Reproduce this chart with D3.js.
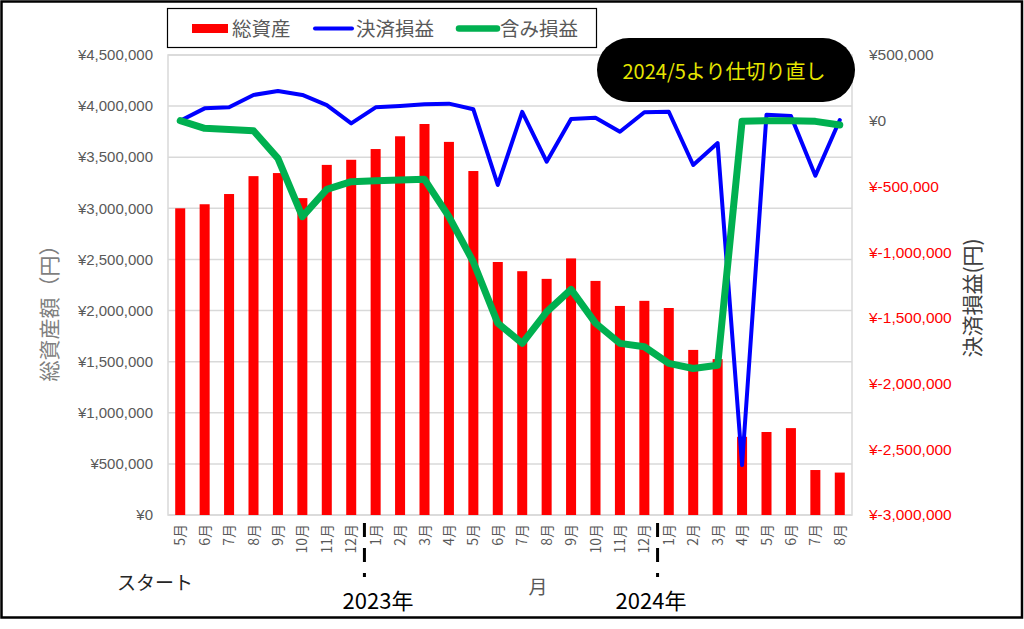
<!DOCTYPE html>
<html>
<head>
<meta charset="utf-8">
<script src="https://cdn.jsdelivr.net/npm/d3@7"></script>
<style>
  html, body { margin: 0; padding: 0; background: #fff; }
  svg { display: block; }
</style>
</head>
<body>
<svg id="chart" width="1024" height="629"></svg>
<script>
// ---- data ----
const months = ["5月","6月","7月","8月","9月","10月","11月","12月",
                "1月","2月","3月","4月","5月","6月","7月","8月","9月","10月","11月","12月",
                "1月","2月","3月","4月","5月","6月","7月","8月"];
const totalAssets = [3000000,3040000,3140000,3315000,3345000,3100000,3425000,3475000,
                     3580000,3705000,3825000,3650000,3365000,2475000,2385000,2310000,2510000,2290000,2045000,2095000,
                     2025000,1615000,1525000,765000,812000,850000,440000,415000];
const settledPL = [0,94000,102000,196000,226000,196000,119000,-20000,
                   102000,112000,125000,130000,87000,-489000,68000,-312000,13000,23000,-84000,64000,
                   68000,-337000,-170000,-2620000,46000,36000,-418000,5000];
const unrealizedPL = [0,-58000,-66000,-76000,-287000,-730000,-522000,-464000,
                      -457000,-451000,-446000,-730000,-1075000,-1540000,-1694000,-1454000,-1283000,-1540000,-1694000,-1720000,
                      -1846000,-1885000,-1860000,-5000,0,0,-5000,-33000];
const leftTicks = [0,500000,1000000,1500000,2000000,2500000,3000000,3500000,4000000,4500000];
const rightTicks = [500000,0,-500000,-1000000,-1500000,-2000000,-2500000,-3000000];
const seriesNames = ["総資産","決済損益","含み損益"];
const yearLabels = ["2023年","2024年"];
const yearBreakIndex = [8, 20];
const note = "2024/5より仕切り直し";

// ---- layout ----
const svg = d3.select("#chart");
const L = 168, R = 852, T = 55, B = 515;
const fmt = d3.formatLocale({decimal:".", thousands:",", grouping:[3], currency:["",""], minus:"-"}).format(",");
const gray = "#595959";
const jp = "'Noto Sans CJK JP', 'Noto Sans', sans-serif";
const num = "'Liberation Sans', Arial, sans-serif";

const x = d3.scaleBand().domain(d3.range(months.length)).range([L, R]).paddingInner(0.59).paddingOuter(0.295);
const xc = i => x(i) + x.bandwidth() / 2;
const yL = d3.scaleLinear().domain([0, 4500000]).range([B, T]);
const yR = d3.scaleLinear().domain([-3000000, 500000]).range([B, T]);

// outer border
svg.append("rect").attr("x", 1.5).attr("y", 1.5).attr("width", 1020.5).attr("height", 616)
  .attr("fill", "#fff").attr("stroke", "#000").attr("stroke-width", 2.5);

// gridlines
svg.append("g").selectAll("line").data(leftTicks).join("line")
  .attr("x1", L).attr("x2", R).attr("y1", d => yL(d)).attr("y2", d => yL(d))
  .attr("stroke", "#d9d9d9").attr("stroke-width", 1.5);
// plot border
svg.append("rect").attr("x", L).attr("y", T).attr("width", R - L).attr("height", B - T)
  .attr("fill", "none").attr("stroke", "#d9d9d9").attr("stroke-width", 1.5);

// bars
svg.append("g").selectAll("rect").data(totalAssets).join("rect")
  .attr("x", (d, i) => x(i)).attr("width", x.bandwidth())
  .attr("y", d => yL(d)).attr("height", d => B - yL(d))
  .attr("fill", "#ff0000");

// lines
const lineFor = arr => d3.line().x((d, i) => xc(i)).y(d => yR(d))(arr);
svg.append("path").attr("d", lineFor(settledPL)).attr("fill", "none")
  .attr("stroke", "#0000ff").attr("stroke-width", 4).attr("stroke-linejoin", "round").attr("stroke-linecap", "round");
svg.append("path").attr("d", lineFor(unrealizedPL)).attr("fill", "none")
  .attr("stroke", "#00b050").attr("stroke-width", 7).attr("stroke-linejoin", "round").attr("stroke-linecap", "round");

// left axis labels
svg.append("g").selectAll("text").data(leftTicks).join("text")
  .attr("x", 153).attr("y", d => yL(d)).attr("dy", "0.35em").attr("text-anchor", "end")
  .attr("font-family", num).attr("font-size", 15).attr("fill", gray)
  .text(d => "¥" + fmt(d));

// right axis labels
svg.append("g").selectAll("text").data(rightTicks).join("text")
  .attr("x", 869).attr("y", d => yR(d)).attr("dy", "0.35em").attr("text-anchor", "start")
  .attr("font-family", num).attr("font-size", 15.5).attr("fill", d => d < 0 ? "#ff0000" : gray)
  .text(d => "¥" + fmt(d));

// x labels (rotated)
svg.append("g").selectAll("text").data(months).join("text")
  .attr("transform", (d, i) => `translate(${xc(i) + 5},524) rotate(-90)`)
  .attr("text-anchor", "end")
  .attr("font-family", jp).attr("font-size", 14).attr("fill", gray)
  .text(d => d);

// year break marks
svg.append("g").selectAll("line").data(yearBreakIndex).join("line")
  .attr("x1", i => x(i) - (x.step() - x.bandwidth()) / 2 + 1)
  .attr("x2", i => x(i) - (x.step() - x.bandwidth()) / 2 + 1)
  .attr("y1", 523).attr("y2", 577)
  .attr("stroke", "#000").attr("stroke-width", 3).attr("stroke-dasharray", "14,11");

// axis titles
svg.append("text").attr("transform", "translate(57,308) rotate(-90)").attr("text-anchor", "middle")
  .attr("font-family", jp).attr("font-size", 21).attr("fill", "#7f7f7f").text("総資産額（円）");
svg.append("text").attr("transform", "translate(980,298) rotate(-90)").attr("text-anchor", "middle")
  .attr("font-family", jp).attr("font-size", 21).attr("fill", "#404040").text("決済損益(円)");
svg.append("text").attr("x", 538).attr("y", 594).attr("text-anchor", "middle")
  .attr("font-family", jp).attr("font-size", 19).attr("fill", gray).text("月");
svg.append("text").attr("x", 155).attr("y", 590).attr("text-anchor", "middle")
  .attr("font-family", jp).attr("font-size", 19).attr("fill", "#262626").text("スタート");

// year labels
const yearX = [378, 651];
svg.append("g").selectAll("text").data(yearLabels).join("text")
  .attr("x", (d, i) => yearX[i]).attr("y", 609).attr("text-anchor", "middle")
  .attr("font-family", jp).attr("font-size", 22).attr("fill", "#000").text(d => d);

// legend
const lg = svg.append("g");
lg.append("rect").attr("x", 167.5).attr("y", 8.5).attr("width", 429).attr("height", 39)
  .attr("fill", "#fff").attr("stroke", "#000").attr("stroke-width", 1.2);
lg.append("rect").attr("x", 192).attr("y", 24).attr("width", 36).attr("height", 9).attr("fill", "#ff0000");
lg.append("line").attr("x1", 315).attr("x2", 352).attr("y1", 28.5).attr("y2", 28.5)
  .attr("stroke", "#0000ff").attr("stroke-width", 4).attr("stroke-linecap", "round");
lg.append("line").attr("x1", 459).attr("x2", 497).attr("y1", 28.5).attr("y2", 28.5)
  .attr("stroke", "#00b050").attr("stroke-width", 6.5).attr("stroke-linecap", "round");
const lgX = [232, 356, 500];
lg.selectAll("text.lt").data(seriesNames).join("text").attr("class", "lt")
  .attr("x", (d, i) => lgX[i]).attr("y", 35.5).attr("font-family", jp).attr("font-size", 19.5).attr("fill", gray)
  .text(d => d);

// annotation
svg.append("rect").attr("x", 597).attr("y", 38).attr("width", 258).attr("height", 64)
  .attr("rx", 32).attr("ry", 32).attr("fill", "#000");
svg.append("text").attr("x", 724).attr("y", 72).attr("dy", "0.35em").attr("text-anchor", "middle")
  .attr("font-family", jp).attr("font-size", 20).attr("fill", "#e6e600").text(note);
</script>
</body>
</html>
